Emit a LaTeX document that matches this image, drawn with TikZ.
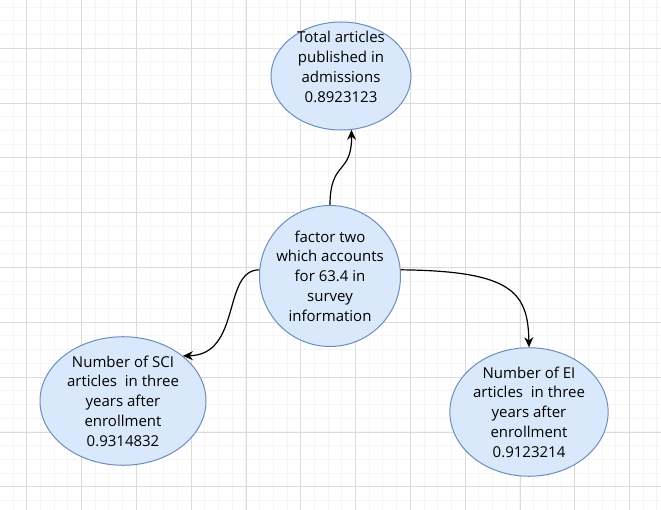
\documentclass[tikz,border=0pt]{standalone}
\usepackage{fontspec}
\setmainfont{Open Sans}
\usetikzlibrary{shapes.geometric, arrows.meta}
\definecolor{ovalfill}{HTML}{DAE8FC}
\definecolor{ovaldraw}{HTML}{6C8EBF}

\begin{document}
\begin{tikzpicture}[x=1pt, y=-1pt,
 gridminor/.style = {draw=black!4, line width=1pt},
 gridmajor/.style = {draw=black!14, line width=0.8pt},
 oval/.style = {ellipse, draw=ovaldraw, fill=ovalfill, line width=1pt, inner sep=0pt, align=center, font=\fontsize{15}{19.8}\selectfont},
 lbl/.style = {align=center, font=\fontsize{15}{19.8}\selectfont},
 link/.style = {draw, line width=1.2pt, -{Stealth[length=10pt, width=9pt]}}]
 \useasboundingbox (0,0) rectangle (661,510);
 \fill[white] (0,0) rectangle (661,510);
 % background grid
 \foreach \i in {0,...,47} \draw[gridminor] ({13+13.7*\i},0) -- ({13+13.7*\i},510);
 \foreach \i in {0,...,37} \draw[gridminor] (0,{7.2+13.7*\i}) -- (661,{7.2+13.7*\i});
 \foreach \i in {0,...,11} \draw[gridmajor] ({26.7+54.8*\i},0) -- ({26.7+54.8*\i},510);
 \foreach \i in {0,...,8} \draw[gridmajor] (0,{48.3+54.8*\i}) -- (661,{48.3+54.8*\i});

 \node[oval, minimum width=140pt, minimum height=108pt,
  label={[lbl, yshift=9pt]center:Total articles\\published in\\admissions\\0.8923123}] (total) at (341,76) {};
 \node[oval, circle, minimum size=141pt] (factor) at (330,276)
  {factor two\\which accounts\\for 63.4 in\\survey\\information};
 \node[oval, minimum width=166pt, minimum height=103pt] (sci) at (123,401)
  {Number of SCI\\articles~ in three\\years after\\enrollment\\0.9314832};
 \node[oval, minimum width=153pt, minimum height=124pt] (ei) at (529,412)
  {Number of EI\\articles~ in three\\years after\\enrollment\\0.9123214};

 \draw[link] (factor.north) .. controls (330,160) and (352,175) .. (total.-79);
 \draw[link] (factor.175) .. controls (222,270) and (242,355) .. (sci.37);
 \draw[link] (factor.5) .. controls (512,271) and (528,292) .. (ei.north);
\end{tikzpicture}
\end{document}
